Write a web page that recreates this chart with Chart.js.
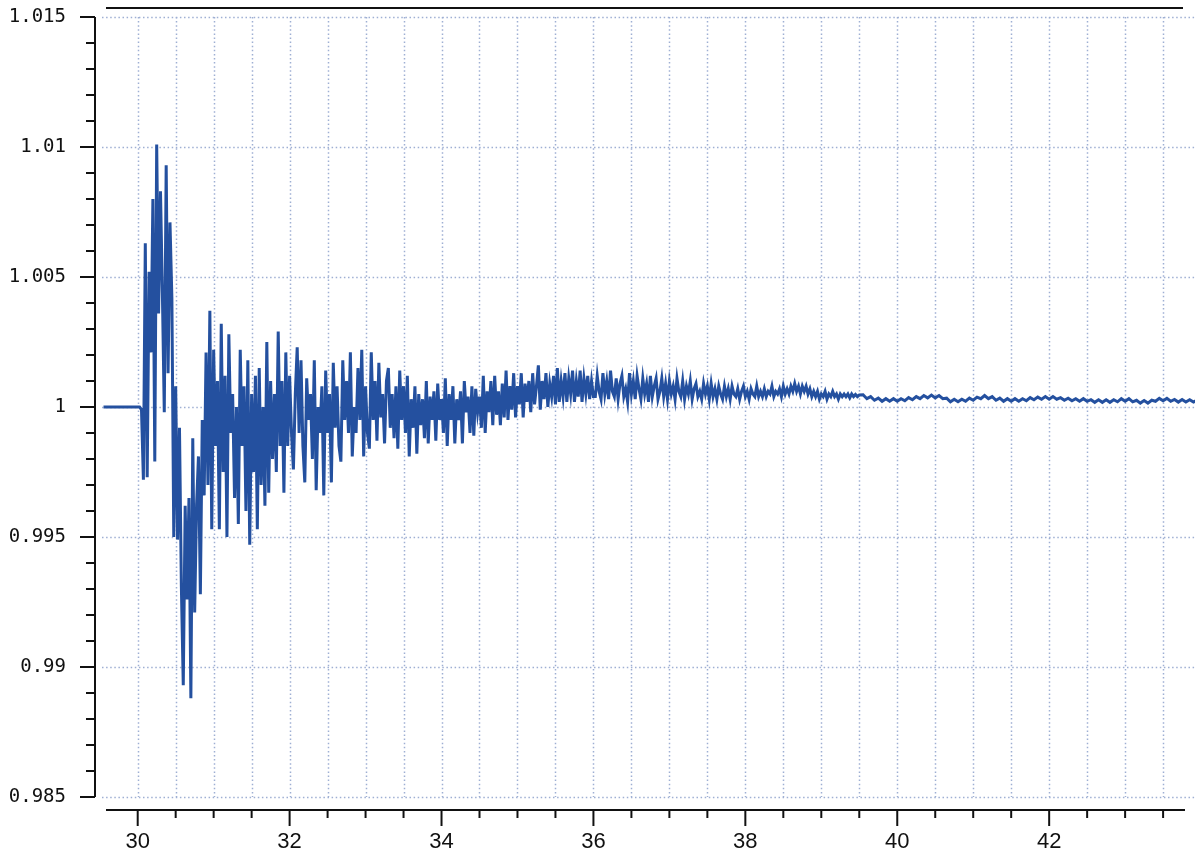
<!DOCTYPE html>
<html>
<head>
<meta charset="utf-8">
<script src="https://cdn.jsdelivr.net/npm/chart.js@4.4.1/dist/chart.umd.min.js"></script>
<style>
  html, body { margin: 0; padding: 0; background: #ffffff; }
  #wrap { width: 1200px; height: 860px; position: relative; }
</style>
</head>
<body>
<div id="wrap"><canvas id="c"></canvas></div>
<script>
// ---------------- DATA ----------------
// flat section before the disturbance: starts at 29.55, sampled every 0.05
const preStart = 29.55, preStep = 0.05;
const preValues = [1.0000, 1.0000, 1.0000, 1.0000, 1.0000, 1.0000, 1.0000, 1.0000, 1.0000];

// oscillating section: starts at 30.00, sampled every 0.025
const oscStart = 30.0, oscStep = 0.025;
const oscValues = [
  1.0000, 1.0000, 0.9999, 0.9972, 1.0063, 0.9973, 1.0052, 1.0021, 1.0080, 0.9979,
  1.0101, 1.0036, 1.0083, 1.0044, 0.9998, 1.0093, 1.0013, 1.0071, 1.0042, 0.9950,
  1.0008, 0.9949, 0.9992, 0.9931, 0.9893, 0.9962, 0.9926, 0.9965, 0.9888, 0.9988,
  0.9921, 0.9962, 0.9981, 0.9928, 0.9995, 0.9966, 1.0021, 0.9970, 1.0037, 0.9953,
  1.0022, 0.9985, 1.0010, 0.9953, 1.0032, 0.9975, 1.0012, 0.9950, 1.0028, 0.9990,
  1.0005, 0.9965, 1.0000, 0.9955, 1.0022, 0.9985, 1.0008, 0.9960, 1.0018, 0.9947,
  1.0005, 0.9975, 1.0012, 0.9953, 1.0015, 0.9970, 1.0000, 0.9962, 1.0025, 0.9967,
  1.0010, 0.9980, 1.0005, 0.9975, 1.0029, 0.9985, 1.0010, 0.9967, 1.0021, 0.9985,
  1.0012, 0.9990, 0.9976, 1.0005, 1.0023, 0.9990, 1.0018, 0.9985, 0.9971, 1.0011,
  0.9995, 1.0005, 0.9980, 1.0018, 0.9968, 1.0000, 0.9990, 1.0008, 0.9966, 1.0014,
  0.9990, 1.0005, 0.9971, 1.0017, 0.9992, 1.0008, 0.9985, 0.9979, 1.0018, 0.9995,
  1.0010, 0.9990, 1.0021, 0.9981, 1.0000, 0.9990, 1.0015, 0.9995, 1.0022, 0.9981,
  1.0008, 0.9990, 0.9984, 1.0021, 0.9995, 1.0010, 0.9987, 1.0017, 0.9996, 1.0005,
  0.9986, 1.0010, 1.0015, 0.9992, 1.0005, 0.9988, 1.0008, 0.9984, 1.0014, 0.9995,
  1.0008, 0.9990, 1.0012, 0.9981, 1.0003, 0.9992, 1.0008, 0.9982, 1.0005, 0.9993,
  1.0003, 0.9988, 1.0010, 0.9986, 1.0004, 0.9995, 1.0006, 0.9987, 1.0009, 0.9995,
  1.0003, 0.9990, 1.0011, 0.9985, 1.0005, 0.9995, 1.0008, 0.9986, 1.0003, 0.9995,
  1.0006, 0.9986, 1.0010, 0.9998, 1.0004, 0.9990, 1.0008, 0.9989, 1.0007, 0.9998,
  1.0004, 0.9992, 1.0012, 0.9990, 1.0006, 0.9998, 1.0010, 0.9993, 1.0012, 0.9997,
  1.0006, 0.9993, 1.0009, 0.9996, 1.0014, 0.9995, 1.0008, 0.9999, 1.0013, 0.9996,
  1.0008, 1.0001, 1.0013, 0.9996, 1.0009, 1.0002, 1.0010, 0.9998, 1.0013, 1.0001,
  1.0008, 1.0016, 0.9999, 1.0010, 1.0003, 1.0013, 1.0000, 1.0009, 1.0004, 1.0012,
  1.0001, 1.0015, 1.0002, 1.0010, 1.0004, 1.0013, 1.0002, 1.0011, 1.0005, 1.0014,
  1.0002, 1.0010, 1.0004, 1.0014, 1.0002, 1.0011, 1.0005, 1.0012, 1.0003, 1.0010,
  1.0004
];

// settling section: starts at 36.025, sampled every 0.025
const settleStart = 36.025, settleStep = 0.025;
const settleValues = [
  1.0004, 1.0012, 1.0006, 1.0003, 1.0013, 1.0005, 1.0010, 1.0003, 1.0014, 1.0006,
  1.0004, 1.0011, 1.0003, 1.0009, 1.0012, 1.0004, 1.0007, 1.0002, 1.0013, 1.0005,
  1.0010, 1.0003, 1.0012, 1.0007, 1.0003, 1.0011, 1.0005, 1.0009, 1.0002, 1.0012,
  1.0004, 1.0008, 1.0011, 1.0003, 1.0006, 1.0011, 1.0004, 1.0009, 1.0003, 1.0010,
  1.0005, 1.0008, 1.0003, 1.0011, 1.0006, 1.0004, 1.0010, 1.0003, 1.0008, 1.0005,
  1.0010, 1.0003, 1.0007, 1.0009, 1.0004, 1.0006, 1.0003, 1.0009, 1.0005, 1.0008,
  1.0003, 1.0009, 1.0004, 1.0007, 1.0003, 1.0008, 1.0005, 1.0003, 1.0008, 1.0004,
  1.0007, 1.0003, 1.0008, 1.0005, 1.0004, 1.0007, 1.0003, 1.0006, 1.0008, 1.0004,
  1.0006, 1.0003, 1.0007, 1.0005, 1.0004, 1.0008, 1.0004, 1.0006, 1.0004, 1.0007,
  1.0004, 1.0006, 1.0005, 1.0008, 1.0004, 1.0006, 1.0005, 1.0007, 1.0004, 1.0008,
  1.0005, 1.0007, 1.0005, 1.0008, 1.0006, 1.0009, 1.0006, 1.0008, 1.0005, 1.0008,
  1.0006, 1.0008, 1.0005, 1.0007, 1.0004, 1.0006, 1.0004, 1.0006, 1.0003, 1.0005,
  1.0004, 1.0006, 1.0003, 1.0005, 1.0004, 1.0006, 1.0004, 1.0005, 1.0003, 1.0005,
  1.0004, 1.0005, 1.0004, 1.0005, 1.00035, 1.0005, 1.0004, 1.00048, 1.0004, 1.00046
];

// steady tail: starts at 39.55, sampled every 0.05
const tailStart = 39.55, tailStep = 0.05;
const tailValues = [
  1.00047, 1.00032, 1.00040, 1.00026, 1.00034, 1.00022, 1.00032, 1.00022, 1.00032, 1.00022,
  1.00032, 1.00024, 1.00036, 1.00028, 1.00040, 1.00032, 1.00044, 1.00035, 1.00046, 1.00035,
  1.00044, 1.00032, 1.00034, 1.00020, 1.00030, 1.00020, 1.00030, 1.00022, 1.00034, 1.00026,
  1.00038, 1.00032, 1.00044, 1.00032, 1.00040, 1.00026, 1.00034, 1.00022, 1.00032, 1.00022,
  1.00032, 1.00022, 1.00032, 1.00024, 1.00036, 1.00028, 1.00038, 1.00030, 1.00040, 1.00030,
  1.00040, 1.00030, 1.00036, 1.00026, 1.00034, 1.00024, 1.00032, 1.00022, 1.00032, 1.00022,
  1.00028, 1.00018, 1.00028, 1.00018, 1.00028, 1.00018, 1.00028, 1.00020, 1.00032, 1.00022,
  1.00032, 1.00020, 1.00026, 1.00015, 1.00025, 1.00015, 1.00026, 1.00022, 1.00033, 1.00024,
  1.00033, 1.00022, 1.00029, 1.00019, 1.00029, 1.00019, 1.00028, 1.00019, 1.00027
];

// axis ticks
const xMin = 29.53, xMax = 43.92;
const yMin = 0.985, yMax = 1.015;
const xTickLabels = [30, 32, 34, 36, 38, 40, 42];
const yTickLabels = [0.985, 0.99, 0.995, 1, 1.005, 1.01, 1.015];
const xMinorStep = 0.5;   // minor ticks / vertical grid
const yMinorStep = 0.001; // minor ticks on value axis

// ---------------- build points ----------------
function segment(start, step, values) {
  return values.map((v, i) => ({ x: Number((start + i * step).toFixed(4)), y: v }));
}
const points = [].concat(
  segment(preStart, preStep, preValues),
  segment(oscStart, oscStep, oscValues),
  segment(settleStart, settleStep, settleValues),
  segment(tailStart, tailStep, tailValues)
);

// ---------------- custom frame / grid ----------------
const framePlugin = {
  id: 'frame',
  beforeDatasetsDraw(chart) {
    const { ctx, chartArea: a, scales } = chart;
    const xs = scales.x, ys = scales.y;
    ctx.save();
    ctx.strokeStyle = '#9eafd3';
    ctx.lineWidth = 1.5;
    ctx.setLineDash([1.5, 2.6]);
    yTickLabels.forEach(v => {
      const y = Math.round(ys.getPixelForValue(v)) + 0.5;
      ctx.beginPath(); ctx.moveTo(a.left, y); ctx.lineTo(a.right, y); ctx.stroke();
    });
    const nX = Math.round((xMax - 30) / xMinorStep);
    for (let k = 0; k <= nX; k++) {
      const t = 30 + k * xMinorStep;
      const x = Math.round(xs.getPixelForValue(t)) + 0.5;
      if (x < a.left || x > a.right) continue;
      ctx.beginPath(); ctx.moveTo(x, a.top); ctx.lineTo(x, a.bottom); ctx.stroke();
    }
    ctx.restore();
  },
  afterDraw(chart) {
    const { ctx, chartArea: a, scales } = chart;
    const xs = scales.x, ys = scales.y;
    ctx.save();
    ctx.strokeStyle = '#111111';
    ctx.lineWidth = 2;
    ctx.setLineDash([]);
    // value axis (left, detached)
    const ax = a.left - 7;
    const yTop = ys.getPixelForValue(yMax), yBot = ys.getPixelForValue(yMin);
    ctx.beginPath(); ctx.moveTo(ax, yTop); ctx.lineTo(ax, yBot); ctx.stroke();
    const nY = Math.round((yMax - yMin) / yMinorStep);
    for (let k = 0; k <= nY; k++) {
      const v = yMin + k * yMinorStep;
      const y = ys.getPixelForValue(v);
      const len = (k % 5 === 0) ? 15 : 9;
      ctx.beginPath(); ctx.moveTo(ax, y); ctx.lineTo(ax - len, y); ctx.stroke();
    }
    // time axis (bottom, detached)
    const by = a.bottom + 13;
    ctx.beginPath(); ctx.moveTo(a.left + 4, by); ctx.lineTo(a.right - 10, by); ctx.stroke();
    const nX = Math.round((xMax - 30) / xMinorStep);
    for (let k = 0; k <= nX; k++) {
      const t = 30 + k * xMinorStep;
      const x = xs.getPixelForValue(t);
      if (x < a.left || x > a.right - 10) continue;
      const len = (k % 4 === 0) ? 16 : 8;
      ctx.beginPath(); ctx.moveTo(x, by); ctx.lineTo(x, by + len); ctx.stroke();
    }
    // top frame line
    ctx.beginPath(); ctx.moveTo(a.left + 4, 8); ctx.lineTo(a.right - 12, 8); ctx.stroke();
    ctx.restore();
  }
};

new Chart(document.getElementById('c'), {
  type: 'line',
  data: {
    datasets: [{
      data: points,
      borderColor: '#24509f',
      borderWidth: 3,
      borderJoinStyle: 'miter',
      pointRadius: 0,
      tension: 0,
      fill: false
    }]
  },
  options: {
    responsive: true,
    maintainAspectRatio: false,
    animation: false,
    parsing: false,
    normalized: true,
    events: [],
    layout: { padding: { top: 17, right: 5, left: 0, bottom: 0 } },
    plugins: { legend: { display: false }, tooltip: { enabled: false } },
    scales: {
      x: {
        type: 'linear',
        min: xMin, max: xMax,
        afterBuildTicks(scale) { scale.ticks = xTickLabels.map(v => ({ value: v })); },
        afterFit(scale) { scale.height = 63; scale.paddingLeft = 0; scale.paddingRight = 0; },
        grid: { display: false, drawTicks: false },
        border: { display: false },
        ticks: {
          autoSkip: false, maxRotation: 0, padding: 32,
          color: '#111111',
          font: { family: 'Liberation Sans, Arial, sans-serif', size: 22 },
          callback: v => String(v)
        }
      },
      y: {
        type: 'linear',
        min: yMin, max: yMax,
        afterBuildTicks(scale) { scale.ticks = yTickLabels.map(v => ({ value: v })); },
        afterFit(scale) { scale.width = 102; scale.paddingTop = 0; scale.paddingBottom = 0; },
        grid: { display: false, drawTicks: false },
        border: { display: false },
        ticks: {
          autoSkip: false, padding: 36,
          color: '#111111',
          font: { family: 'DejaVu Sans Mono, monospace', size: 19 },
          callback: v => String(Number(v.toFixed(3)))
        }
      }
    }
  },
  plugins: [framePlugin]
});
</script>
</body>
</html>
